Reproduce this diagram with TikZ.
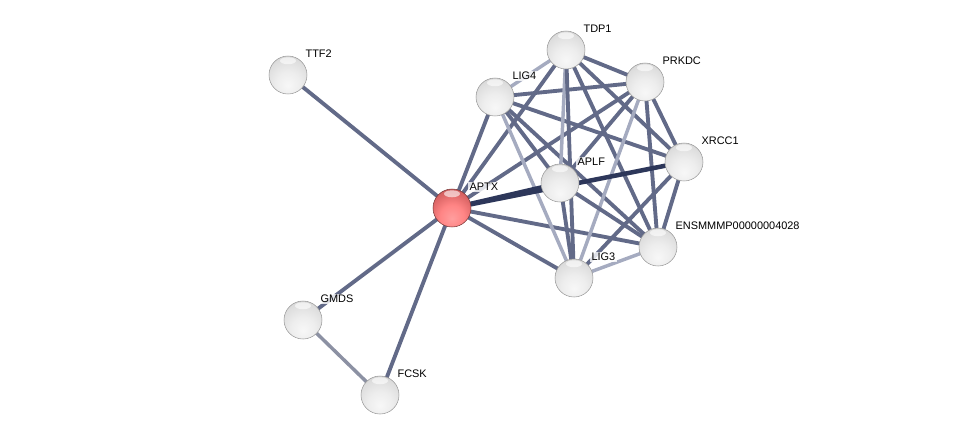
\documentclass[tikz,border=0pt]{standalone}
\usepackage{fontspec}
\setmainfont{Liberation Sans}
\definecolor{edgeN}{RGB}{98,106,136}
\definecolor{edgeD}{RGB}{45,55,90}
\definecolor{edgeP}{RGB}{165,171,192}
\definecolor{nodeRed}{RGB}{218,100,100}
\pgfdeclareradialshading{spheregray}{\pgfpoint{0bp}{-14bp}}{%
  color(0bp)=(white!94!gray); color(16bp)=(white!86!gray); color(30bp)=(white!74!gray);
  color(42bp)=(white!60!gray); color(50bp)=(white!42!gray); color(100bp)=(white!42!gray)}
\pgfdeclareradialshading{spherered}{\pgfpoint{0bp}{-14bp}}{%
  color(0bp)=(red!38!white); color(16bp)=(red!48!white); color(30bp)=(nodeRed);
  color(42bp)=(nodeRed!85!black); color(50bp)=(nodeRed!62!black); color(100bp)=(nodeRed!62!black)}
\begin{document}
\begin{tikzpicture}[x=0.75pt,y=-0.75pt,
  prot/.style={circle,minimum size=28.5pt,inner sep=0pt,shading=spheregray,draw=gray!80,line width=0.4pt,
    path picture={\fill[white,opacity=0.6] ([yshift=-3.6pt]path picture bounding box.north) ellipse (6pt and 2.6pt);}},
  qprot/.style={prot,shading=spherered,draw=nodeRed!55!black},
  lbl/.style={anchor=west,font=\fontsize{8.2}{9}\selectfont,fill=white,fill opacity=0.8,text opacity=1,inner sep=1pt},
  en/.style={draw=edgeN,line width=2.9pt},
  ed/.style={draw=edgeD,line width=3.2pt},
  ep/.style={draw=edgeP,line width=2.6pt}]
\useasboundingbox (0,0) rectangle (975,440);
% positions
\coordinate (pTTF2) at (288,75);
\coordinate (pAPTX) at (452,208);
\coordinate (pLIG4) at (495,97);
\coordinate (pTDP1) at (566,50);
\coordinate (pPRKDC) at (645,82);
\coordinate (pXRCC1) at (684,162);
\coordinate (pAPLF) at (560,183);
\coordinate (pENSM) at (658,247);
\coordinate (pLIG3) at (574,278);
\coordinate (pGMDS) at (303,320);
\coordinate (pFCSK) at (380,395);
% edges
\draw[en] (pAPTX) -- (pTTF2);
\draw[en] (pAPTX) -- (pGMDS);
\draw[en] (pAPTX) -- (pFCSK);
\draw[ep,draw=edgeP!85!black] (pGMDS) -- (pFCSK);
\draw[en] (pAPTX) -- (pLIG4);
\draw[en] (pAPTX) -- (pTDP1);
\draw[en] (pAPTX) -- (pPRKDC);
\draw[en] (pAPTX) -- (pENSM);
\draw[en] (pAPTX) -- (pLIG3);
\draw[ep] (pLIG4) -- (pTDP1);
\draw[en] (pLIG4) -- (pPRKDC);
\draw[en] (pLIG4) -- (pXRCC1);
\draw[en] (pLIG4) -- (pAPLF);
\draw[en] (pLIG4) -- (pENSM);
\draw[ep] (pLIG4) -- (pLIG3);
\draw[en] (pTDP1) -- (pPRKDC);
\draw[en] (pTDP1) -- (pXRCC1);
\draw[en] (pTDP1) -- (pENSM);
\draw[ep] (pTDP1) -- (pAPLF);
\draw[en] (pTDP1) -- (pLIG3);
\draw[en] (pPRKDC) -- (pXRCC1);
\draw[en] (pPRKDC) -- (pENSM);
\draw[en] (pPRKDC) -- (pAPLF);
\draw[ep] (pPRKDC) -- (pLIG3);
\draw[en] (pXRCC1) -- (pENSM);
\draw[en] (pXRCC1) -- (pLIG3);
\draw[en] (pAPLF) -- (pENSM);
\draw[en] (pAPLF) -- (pLIG3);
\draw[ep] (pENSM) -- (pLIG3);
\draw[ed] (pAPTX) -- (pAPLF);
\draw[ed,line width=3.4pt] (pAPTX) -- (pXRCC1);
% nodes
\node[prot] (TTF2) at (pTTF2) {};
\node[prot] (LIG4) at (pLIG4) {};
\node[prot] (TDP1) at (pTDP1) {};
\node[prot] (PRKDC) at (pPRKDC) {};
\node[prot] (XRCC1) at (pXRCC1) {};
\node[prot] (APLF) at (pAPLF) {};
\node[prot] (ENSM) at (pENSM) {};
\node[prot] (LIG3) at (pLIG3) {};
\node[prot] (GMDS) at (pGMDS) {};
\node[prot] (FCSK) at (pFCSK) {};
\node[qprot] (APTX) at (pAPTX) {};
% labels
\node[lbl] (lTTF2) at ([shift={(16,-21)}]pTTF2) {TTF2};
\node[lbl] (lAPTX) at ([shift={(16,-21)}]pAPTX) {APTX};
\node[lbl] (lLIG4) at ([shift={(16,-21)}]pLIG4) {LIG4};
\node[lbl] (lTDP1) at ([shift={(16,-21)}]pTDP1) {TDP1};
\node[lbl] (lPRKDC) at ([shift={(16,-21)}]pPRKDC) {PRKDC};
\node[lbl] (lXRCC1) at ([shift={(16,-21)}]pXRCC1) {XRCC1};
\node[lbl] (lAPLF) at ([shift={(16,-21)}]pAPLF) {APLF};
\node[lbl] (lENSM) at ([shift={(16,-21)}]pENSM) {ENSMMMP00000004028};
\node[lbl] (lLIG3) at ([shift={(16,-21)}]pLIG3) {LIG3};
\node[lbl] (lGMDS) at ([shift={(16,-21)}]pGMDS) {GMDS};
\node[lbl] (lFCSK) at ([shift={(16,-21)}]pFCSK) {FCSK};
\end{tikzpicture}
\end{document}
